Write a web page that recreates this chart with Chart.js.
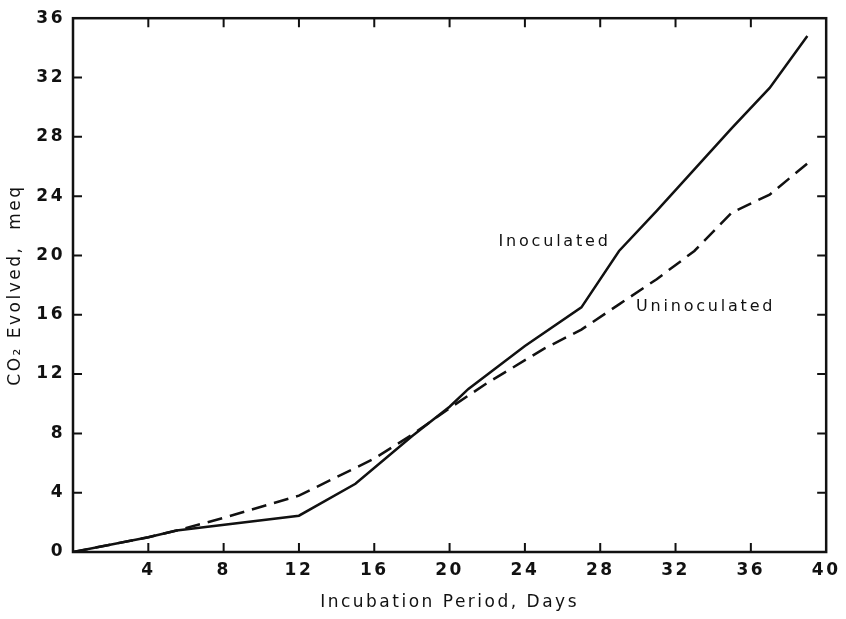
<!DOCTYPE html>
<html lang="en">
<head>
  <meta charset="UTF-8" />
  <title>CO2 Evolved vs Incubation Period</title>
  <style>
    body { margin: 0; background: #ffffff; }
    .wrap { width: 846px; height: 619px; position: relative; }
  </style>
</head>
<body>
  <div class="wrap"><canvas id="co2Chart"></canvas></div>

  <script src="https://cdn.jsdelivr.net/npm/chart.js"></script>
  <script>
    // values (days, meq)
    const inocDays   = [0, 4, 5.5, 12, 15, 18, 20, 21, 24, 27, 29, 31, 33, 35, 37, 39];
    const inocCO2    = [0, 1.0, 1.45, 2.45, 4.6, 7.8, 9.8, 11.0, 13.9, 16.5, 20.3, 23.0, 25.8, 28.6, 31.3, 34.8];
    const uninocDays = [0, 4, 5.5, 8, 12, 16, 18, 20, 22, 25, 27, 29, 31, 33, 35, 37, 39];
    const uninocCO2  = [0, 1.0, 1.45, 2.3, 3.8, 6.3, 7.9, 9.7, 11.4, 13.7, 15.0, 16.7, 18.4, 20.3, 22.9, 24.1, 26.2];

    const xTicks = [0, 4, 8, 12, 16, 20, 24, 28, 32, 36, 40];
    const yTicks = [0, 4, 8, 12, 16, 20, 24, 28, 32, 36];

    const seriesLabels = ["Inoculated", "Uninoculated"];
    // where the curve names sit, in data units (day, meq)
    const labelSpots = [[22.6, 20.9], [29.9, 16.5]];

    const ink = "#111111";
    const toPoints = (xs, ys) => xs.map((d, i) => ({ x: d, y: ys[i] }));

    // spaced-out lettering like the old typeset figure
    const spacing = {
      id: "spacing",
      beforeDraw(chart) {
        chart.ctx.letterSpacing = "2.5px";
      }
    };

    // closed frame with inward tick marks on all four sides
    const frameTicks = {
      id: "frameTicks",
      afterDraw(chart) {
        const { ctx, chartArea: a, scales: { x, y } } = chart;
        ctx.save();
        ctx.strokeStyle = ink;
        ctx.lineWidth = 2.5;
        ctx.strokeRect(a.left, a.top, a.width, a.height);
        ctx.lineWidth = 2;
        ctx.beginPath();
        xTicks.slice(1, -1).forEach(v => {
          const px = x.getPixelForValue(v);
          ctx.moveTo(px, a.bottom); ctx.lineTo(px, a.bottom - 9);
          ctx.moveTo(px, a.top);    ctx.lineTo(px, a.top + 9);
        });
        yTicks.slice(1, -1).forEach(v => {
          const py = y.getPixelForValue(v);
          ctx.moveTo(a.left, py);  ctx.lineTo(a.left + 9, py);
          ctx.moveTo(a.right, py); ctx.lineTo(a.right - 9, py);
        });
        ctx.stroke();
        ctx.restore();
      }
    };

    const curveNames = {
      id: "curveNames",
      afterDatasetsDraw(chart) {
        const { ctx, scales: { x, y } } = chart;
        ctx.save();
        ctx.fillStyle = ink;
        ctx.font = "16px 'DejaVu Sans'";
        ctx.letterSpacing = "2.8px";
        ctx.textAlign = "left";
        ctx.textBaseline = "middle";
        seriesLabels.forEach((t, i) => {
          ctx.fillText(t, x.getPixelForValue(labelSpots[i][0]), y.getPixelForValue(labelSpots[i][1]));
        });
        ctx.restore();
      }
    };

    new Chart(document.getElementById("co2Chart"), {
      type: "scatter",
      data: {
        datasets: [
          {
            label: seriesLabels[0],
            data: toPoints(inocDays, inocCO2),
            showLine: true,
            borderColor: ink,
            borderWidth: 2.5,
            pointRadius: 0,
            tension: 0
          },
          {
            label: seriesLabels[1],
            data: toPoints(uninocDays, uninocCO2),
            showLine: true,
            borderColor: ink,
            borderWidth: 2.5,
            borderDash: [15, 8],
            pointRadius: 0,
            tension: 0
          }
        ]
      },
      options: {
        responsive: true,
        maintainAspectRatio: false,
        animation: false,
        layout: { padding: { left: 0, top: 15, right: 19, bottom: 0 } },
        plugins: {
          legend: { display: false },
          tooltip: { enabled: false }
        },
        scales: {
          x: {
            type: "linear",
            min: 0,
            max: 40,
            afterBuildTicks: s => { s.ticks = xTicks.map(v => ({ value: v })); },
            afterFit: s => { s.height = 67; },
            grid: { display: false, drawTicks: false },
            border: { display: false },
            ticks: {
              color: ink,
              padding: 8,
              maxRotation: 0,
              font: { family: "'DejaVu Sans'", size: 17, weight: "bold" },
              callback: v => (v === 0 ? "" : v)
            },
            title: {
              display: true,
              text: "Incubation Period, Days",
              color: ink,
              font: { family: "'DejaVu Sans'", size: 17 },
              padding: { top: 0, bottom: 6 }
            }
          },
          y: {
            type: "linear",
            min: 0,
            max: 36,
            afterBuildTicks: s => { s.ticks = yTicks.map(v => ({ value: v })); },
            afterFit: s => { s.width = 73; },
            grid: { display: false, drawTicks: false },
            border: { display: false },
            ticks: {
              color: ink,
              padding: 8,
              font: { family: "'DejaVu Sans'", size: 17, weight: "bold" }
            },
            title: {
              display: true,
              text: "CO\u2082 Evolved,  meq",
              color: ink,
              font: { family: "'DejaVu Sans'", size: 17 },
              padding: { top: 5, bottom: 0 }
            }
          }
        }
      },
      plugins: [spacing, frameTicks, curveNames]
    });
  </script>
</body>
</html>
